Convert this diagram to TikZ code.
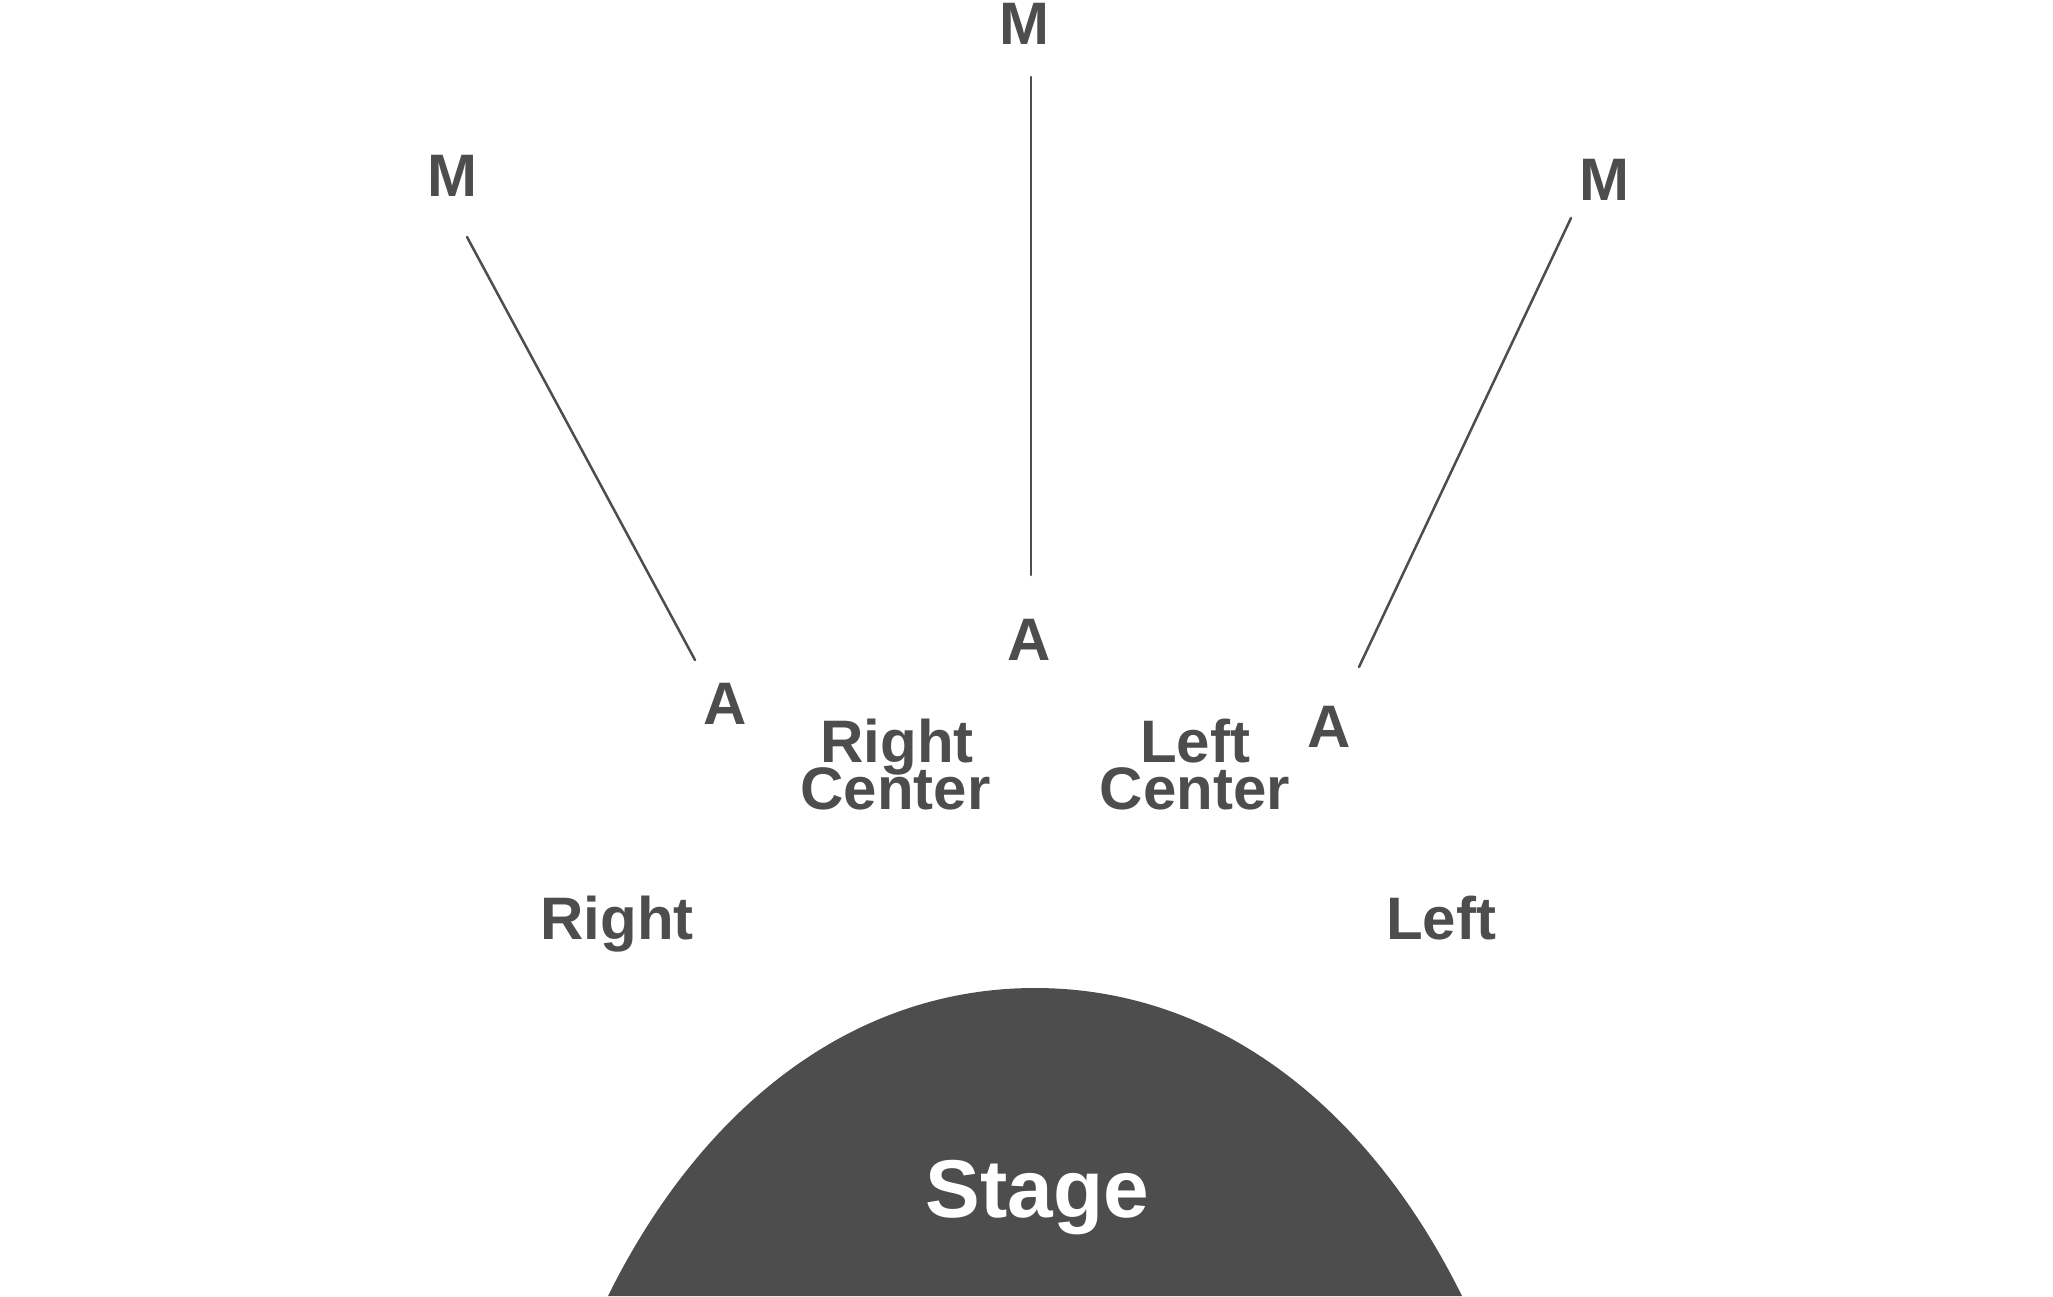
\documentclass[tikz,border=0pt]{standalone}
\usepackage{fontspec}
\setmainfont{Liberation Sans}
\definecolor{ink}{HTML}{4D4D4D}
\begin{document}
\begin{tikzpicture}[x=1pt,y=-1pt,
  lbl/.style={font=\bfseries\fontsize{60}{60}\selectfont, text=ink, inner sep=0pt, anchor=base},
  wire/.style={draw=ink, line width=2.5pt, line cap=round}]
\useasboundingbox (0,0) rectangle (2053,1296);
% stage
\begin{scope}
  \clip (0,0) rectangle (2053,1296);
  \fill[ink] (608,1296) .. controls (700,1110) and (850,988) .. (1035,988)
             .. controls (1220,988) and (1370,1110) .. (1462,1296) -- cycle;
\end{scope}
\node[lbl, text=white, font=\bfseries\fontsize{82}{82}\selectfont] (stage) at (1037.5,1217) {Stage};
% labels
\node[lbl] (mtop) at (1024.6,44) {M};
\node[lbl] (mleft) at (452.5,196) {M};
\node[lbl] (mright) at (1604.5,200) {M};
\node[lbl] (acenter) at (1029,660) {A};
\node[lbl] (aleft) at (725,724) {A};
\node[lbl] (aright) at (1329,747) {A};
\node[lbl] (rc1) at (897,762) {Right};
\node[lbl] (rc2) at (895.5,809) {Center};
\node[lbl] (lc1) at (1195,762) {Left};
\node[lbl] (lc2) at (1195,809) {Center};
\node[lbl] (right) at (617,939) {Right};
\node[lbl] (left) at (1441,939) {Left};
% line ends
\coordinate (l1) at (467,237);
\coordinate (l2) at (695,660);
\coordinate (c1) at (1031,77);
\coordinate (c2) at (1031,575);
\coordinate (r1) at (1571,218);
\coordinate (r2) at (1359,667);
\draw[wire] (l1) -- (l2);
\draw[wire] (c1) -- (c2);
\draw[wire] (r1) -- (r2);
\end{tikzpicture}
\end{document}
